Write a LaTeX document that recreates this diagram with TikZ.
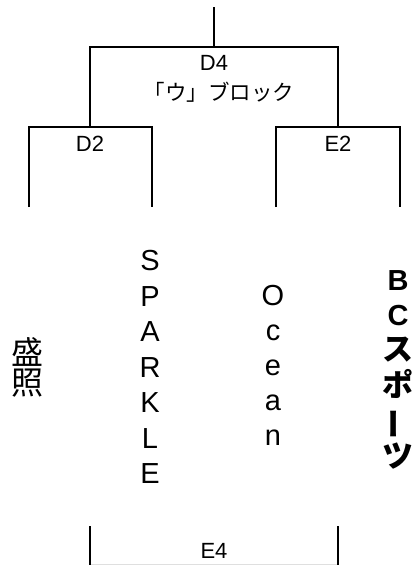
\documentclass[tikz,border=0pt]{standalone}
\usepackage{fontspec}
\usepackage{graphicx}
\setmainfont{Liberation Sans}
\newfontfamily\jpfont{Noto Sans CJK JP}
\newcommand\tightskip{\lineskiplimit-100pt\relax}
\newcommand\jpbold{\jpfont\bfseries\fontsize{31}{35}\selectfont}

\tikzset{
  bracket/.style={line width=1.3pt, black},
  roundlabel/.style={font=\fontsize{22}{26}\selectfont, inner sep=0pt},
  letter/.style={anchor=base, inner sep=0pt, font=\fontsize{29}{35}\selectfont},
}

\begin{document}
\begin{tikzpicture}[x=1pt,y=-1pt]
\useasboundingbox (0,0) rectangle (414,565);

% bracket joints
\coordinate (top) at (214,7);
\coordinate (d4l) at (90,47);
\coordinate (d4r) at (338,47);
\coordinate (d2) at (90,127);
\coordinate (e2) at (338,127);

\draw[bracket] (top) -- (top |- d4l);
\draw[bracket] (d2) -- (d4l) -- (d4r) -- (e2);
\draw[bracket] (29,207) -- (29,127) -- (152,127) -- (152,207);
\draw[bracket] (276,207) -- (276,127) -- (400,127) -- (400,207);

% lower block
\draw[bracket] (90,526) -- (90,565);
\draw[bracket] (338,526) -- (338,565);
\draw[gray!25] (91,564) -- (337,564);

% round labels
\node[roundlabel] (labd4) at (214,63) {D4};
\node[inner sep=0pt, font=\jpfont\fontsize{21.5}{24}\selectfont] (block) at (219,92) {「ウ」ブロック};
\node[roundlabel] (labd2) at (90,144) {D2};
\node[roundlabel] (labe2) at (338,144) {E2};
\node[roundlabel] (labe4) at (214,551) {E4};

% teams, one letter per node
\node[align=center, inner sep=0pt, font=\jpfont\fontsize{32}{30}\selectfont\tightskip] (seisho) at (27,367) {盛\\照};
\foreach \ch [count=\i from 0] in {S,P,A,R,K,L,E}
  \node[letter] (sparkle\i) at (150,270.5+35.5*\i) {\ch};
\foreach \ch [count=\i from 0] in {O,c,e,a,n}
  \node[letter] (ocean\i) at (273,305.5+35*\i) {\ch};
\foreach \ch [count=\i from 0] in {{\bfseries B},{\bfseries C},{\jpbold ス},{\jpbold ポ},{\jpbold\rotatebox[origin=c]{90}{ー}},{\jpbold ツ}}
  \node[letter] (bc\i) at (398,290+35.4*\i) {\ch};
\end{tikzpicture}
\end{document}
